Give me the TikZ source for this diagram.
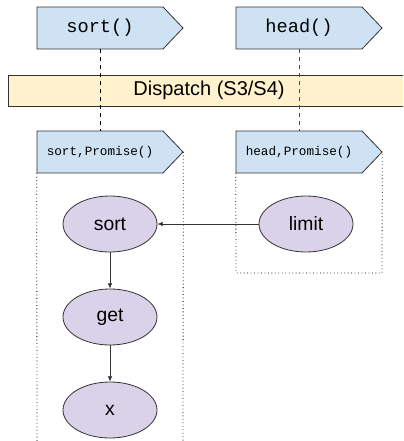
\documentclass[tikz,border=0pt]{standalone}
\usepackage{fontspec}
\setmainfont{Liberation Sans}
\setmonofont{Liberation Mono}
\usetikzlibrary{arrows.meta,shapes.geometric}
\definecolor{callblue}{HTML}{CFE2F3}
\definecolor{opviolet}{HTML}{D9D2E9}
\definecolor{dispyellow}{HTML}{FFF2CC}
\definecolor{edgegray}{HTML}{333333}
\begin{document}
\begin{tikzpicture}[x=0.75pt,y=-0.75pt,
    callbox/.style={draw=edgegray,line width=0.6pt,fill=callblue},
    calltext/.style={inner sep=0pt,minimum width=94.5pt,minimum height=31.5pt},
    op/.style={ellipse,draw=edgegray,line width=0.6pt,fill=opviolet,
        minimum width=70.5pt,minimum height=42pt,inner sep=0pt,
        font=\fontsize{14.5}{17}\selectfont},
    flow/.style={-{Latex[length=4pt,width=3.5pt]},line width=0.6pt,draw=edgegray},
    lane/.style={dotted,line width=0.6pt}]
        \clip (0,0) rectangle (403,441);
        % generic calls
        \foreach \x/\nm/\txt in {37/sortcall/sort(),236/headcall/head()} {
            \draw[callbox] (\x,7) -- ++(126,0) -- ++(20,21) -- ++(-20,21) -- ++(-126,0) -- cycle;
            \node[calltext,font=\fontsize{14}{16}\ttfamily] (\nm) at (\x+63,28) {\txt};
        }
        \node[draw=edgegray,line width=0.6pt,fill=dispyellow,minimum width=301.5pt,minimum height=23.25pt,
            font=\fontsize{15}{18}\selectfont] (dispatch) at (209,90.5) {Dispatch (S3/S4)};
        % methods
        \foreach \x/\nm/\txt in {37/sortprom/{sort,Promise()},236/headprom/{head,Promise()}} {
            \draw[callbox] (\x,131) -- ++(126,0) -- ++(20,21) -- ++(-20,21) -- ++(-126,0) -- cycle;
            \node[calltext,font=\fontsize{9.5}{11}\ttfamily] (\nm) at (\x+63,152) {\txt};
        }
        \draw[dashed,line width=0.6pt] (sortcall.south) -- (sortprom.north);
        \draw[dashed,line width=0.6pt,black!70] (headcall.south) -- (headprom.north);
        \draw[lane] (sortprom.south west) -- (37,445);
        \draw[lane] ([xshift=15pt]sortprom.east) -- (183,445);
        \draw[lane] (headprom.south west) -- (236,273) -- (382,273) -- ([xshift=15pt]headprom.east);
        % lazy ops
        \node[op] (sort) at (110,224) {sort};
        \node[op] (limit) at (306,224) {limit};
        \node[op] (get) at (110,317) {get};
        \node[op] (xval) at (110,410) {x};
        \draw[flow] (limit) -- (sort);
        \draw[flow] (sort) -- (get);
        \draw[flow] (get) -- (xval);
    \end{tikzpicture}
\end{document}
